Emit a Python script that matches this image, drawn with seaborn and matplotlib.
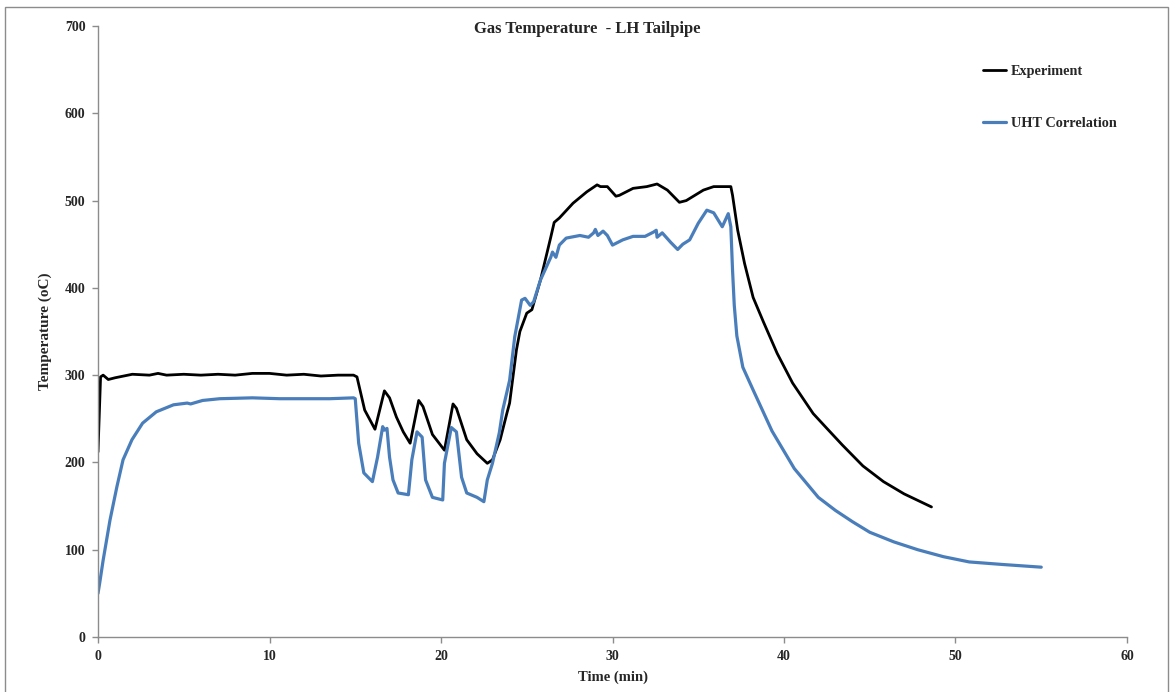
import numpy as np
import pandas as pd
import matplotlib
matplotlib.use("Agg")
import matplotlib.pyplot as plt
import seaborn as sns
from matplotlib.patches import Rectangle

# Measured tailpipe gas temperature
exp_time = [0, 0.15, 0.3, 0.6, 1.0, 1.5, 2.0, 3.0, 3.5, 4.0, 5.0, 6.0, 7.0, 8.0, 9.0,
            10.0, 11.0, 12.0, 13.0, 14.0, 14.9, 15.1, 15.55, 16.15, 16.7, 17.0, 17.4,
            17.8, 18.2, 18.7, 18.95, 19.5, 20.2, 20.7, 20.9, 21.5, 22.1, 22.7, 23.0,
            23.45, 23.85, 24.0, 24.4, 24.6, 25.0, 25.3, 25.8, 26.4, 26.6, 26.9, 27.7,
            28.5, 29.1, 29.3, 29.7, 30.2, 30.4, 31.2, 32.0, 32.6, 33.2, 33.9, 34.3,
            35.3, 35.9, 36.7, 36.9, 37.0, 37.3, 37.7, 38.2, 38.8, 39.6, 40.5, 41.7,
            42.5, 43.4, 44.6, 45.8, 47.0, 48.6]
exp_temp = [212, 298, 300, 295, 297, 299, 301, 300, 302, 300, 301, 300, 301, 300, 302,
            302, 300, 301, 299, 300, 300, 298, 260, 238, 282, 274, 252,
            235, 222, 271, 264, 232, 214, 267, 262, 226, 210, 199, 203,
            226, 257, 268, 329, 350, 371, 375, 409, 458, 475, 480, 497,
            510, 518, 516, 516, 505, 506, 514, 516, 519, 512, 498, 500,
            512, 516, 516, 516, 506, 466, 428, 389, 361, 325, 291, 256,
            239, 220, 196, 178, 164, 149]

# Predicted temperature with the UHT correlation
uht_time = [0, 0.1, 0.3, 0.7, 1.1, 1.46, 1.98, 2.6, 3.4, 4.4, 5.2, 5.4, 6.1, 7.1, 9.0,
            10.6, 12.0, 13.5, 14.9, 15.0, 15.2, 15.5, 16.0, 16.3, 16.6, 16.7, 16.85,
            17.0, 17.2, 17.5, 18.1, 18.3, 18.6, 18.9, 19.1, 19.5, 20.1, 20.2, 20.6,
            20.9, 21.2, 21.5, 22.1, 22.5, 22.7, 23.0, 23.4, 23.6, 24.0, 24.3, 24.7,
            24.9, 25.2, 25.4, 25.8, 26.4, 26.5, 26.7, 26.9, 27.3, 28.1, 28.6, 28.9,
            29.0, 29.15, 29.45, 29.7, 30.0, 30.6, 31.2, 31.9, 32.4, 32.55, 32.6, 32.9,
            33.4, 33.8, 34.1, 34.5, 35.0, 35.5, 35.9, 36.4, 36.75, 36.9, 37.0, 37.1,
            37.25, 37.6, 38.2, 39.3, 40.6, 42.0, 43.0, 44.0, 45.0, 46.4, 47.8, 49.3,
            50.8, 52.8, 55.0]
uht_temp = [50, 62, 88, 134, 172, 203, 226, 245, 258, 266, 268, 267, 271, 273, 274,
            273, 273, 273, 274, 273, 222, 188, 178, 206, 241, 237, 239,
            206, 180, 165, 163, 203, 235, 229, 180, 160, 157, 199, 240,
            235, 183, 165, 160, 155, 180, 199, 234, 260, 294, 344, 386,
            388, 380, 384, 409, 435, 441, 435, 449, 457, 460, 458, 463,
            467, 460, 465, 460, 449, 455, 459, 459, 464, 466, 458, 463,
            452, 444, 450, 455, 474, 489, 486, 470, 485, 470, 420, 380,
            345, 309, 283, 236, 193, 160, 145, 132, 120, 109, 100, 92,
            86, 83, 80]

series_names = ["Experiment", "UHT Correlation"]
series_colors = ["#000000", "#4A7EBB"]

df = pd.concat([
    pd.DataFrame({"Time": exp_time, "Temp": exp_temp, "Series": series_names[0]}),
    pd.DataFrame({"Time": uht_time, "Temp": uht_temp, "Series": series_names[1]}),
], ignore_index=True)

sns.set_style("white")
plt.rcParams["font.family"] = ["Liberation Serif", "DejaVu Serif"]
plt.rcParams["font.weight"] = "bold"

fig = plt.figure(figsize=(11.7, 6.92), dpi=100)
ax = fig.add_axes([98 / 1170, 1 - 637 / 692, (1127 - 98) / 1170, (637 - 26) / 692])

sns.lineplot(data=df, x="Time", y="Temp", hue="Series", hue_order=series_names,
             palette=series_colors, sort=False, estimator=None, ax=ax, legend=False)
for line, lw in zip(ax.get_lines(), [2.0, 2.3]):
    line.set_linewidth(lw)
    line.set_solid_joinstyle("round")

ax.set_xlim(0, 60)
ax.set_ylim(0, 700)
ax.set_xticks(range(0, 61, 10))
ax.set_yticks(range(0, 701, 100))

spine_color = "#8C8C8C"
for side in ["top", "right"]:
    ax.spines[side].set_visible(False)
for side in ["left", "bottom"]:
    ax.spines[side].set_color(spine_color)
    ax.spines[side].set_linewidth(1.0)
ax.tick_params(axis="both", direction="out", length=4, width=1.0, color=spine_color,
               labelsize=10, pad=5, left=True, bottom=True)
for lbl in ax.get_xticklabels() + ax.get_yticklabels():
    lbl.set_fontweight("bold")

ax.set_xlabel("Time (min)", fontsize=10.5, fontweight="bold", labelpad=6)
ax.set_ylabel("Temperature (oC)", fontsize=11, fontweight="bold", labelpad=9)

fig.text(0.502, 1 - 29 / 692, "Gas Temperature  - LH Tailpipe", ha="center", va="center",
         fontsize=12, fontweight="bold")

# Legend entries stacked with wide spacing in the upper right
handles = ax.get_lines()[:2]
leg = ax.legend(handles, series_names, loc="upper left", bbox_to_anchor=(0.848, 0.958),
                frameon=False, handlelength=1.6, handletextpad=0.3, labelspacing=2.75,
                prop={"weight": "bold", "size": 10.3})

# Chart-area border
fig.patches.append(Rectangle((5 / 1170, -0.01), (1168 - 5) / 1170, 1 - 7 / 692 + 0.01,
                             transform=fig.transFigure, fill=False,
                             edgecolor="#8C8C8C", linewidth=1.0))

fig.savefig("out.png", dpi=100)
